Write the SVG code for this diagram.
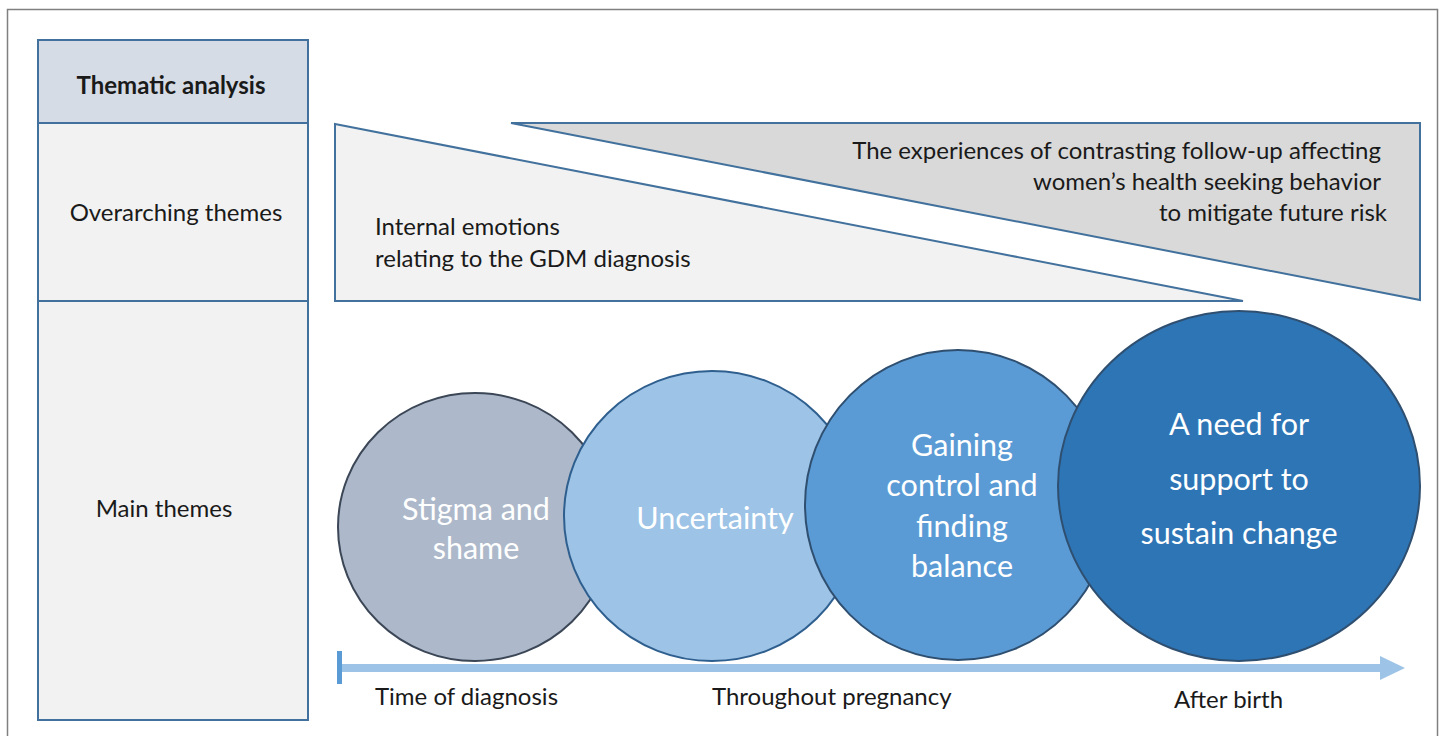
<svg xmlns="http://www.w3.org/2000/svg" width="1446" height="736" viewBox="0 0 1446 736">
<style>
.t{font-family:Lato,"Open Sans","Liberation Sans",sans-serif;fill:#1a1a1a;font-size:24px;}
.cell{stroke:#41719c;stroke-width:2;}
.c{font-family:Lato,"Open Sans","Liberation Sans",sans-serif;fill:#ffffff;font-size:30.5px;text-anchor:middle;}
</style>
<rect width="1446" height="736" fill="#ffffff"/>
<rect x="7.5" y="9.5" width="1430" height="740" fill="none" stroke="#808080" stroke-width="1.5"/>
<g id="table">
<rect class="cell" x="38" y="40" width="270" height="83" fill="#d6dce5"/>
<rect class="cell" x="38" y="123" width="270" height="178" fill="#f2f2f2"/>
<rect class="cell" x="38" y="301" width="270" height="419" fill="#f2f2f2"/>
<text class="t" x="171" y="94" font-size="24.5" font-weight="bold" text-anchor="middle">Thematic analysis</text>
<text class="t" x="176" y="221" text-anchor="middle">Overarching themes</text>
<text class="t" x="164" y="517" text-anchor="middle">Main themes</text>
</g>
<g id="overarching-1">
<polygon points="335,124 1243,301 335,301" fill="#f2f2f2" stroke="#41719c" stroke-width="2"/>
<text class="t" x="375" y="235">Internal emotions</text>
<text class="t" x="375" y="267">relating to the GDM diagnosis</text>
</g>
<g id="overarching-2">
<polygon points="511,123 1420,123 1420,300" fill="#d9d9d9" stroke="#41719c" stroke-width="2"/>
<text class="t" x="1381" y="159" text-anchor="end">The experiences of contrasting follow-up affecting</text>
<text class="t" x="1381" y="190" text-anchor="end">women’s health seeking behavior</text>
<text class="t" x="1387" y="221" text-anchor="end">to mitigate future risk</text>
</g>
<g id="theme-stigma">
<ellipse cx="475" cy="527" rx="137" ry="134" fill="#adb9ca" stroke="#3b4656" stroke-width="2"/>
<text class="c" x="476" y="520">Stigma and</text>
<text class="c" x="476" y="559">shame</text>
</g>
<g id="theme-uncertainty">
<ellipse cx="712" cy="516" rx="148" ry="145" fill="#9dc3e6" stroke="#2f5f8f" stroke-width="2"/>
<text class="c" x="715" y="529">Uncertainty</text>
</g>
<g id="theme-gaining">
<ellipse cx="958" cy="505" rx="153" ry="155" fill="#5b9bd5" stroke="#2f4f70" stroke-width="2"/>
<text class="c" x="962" y="456">Gaining</text>
<text class="c" x="962" y="496">control and</text>
<text class="c" x="962" y="537">finding</text>
<text class="c" x="962" y="577">balance</text>
</g>
<g id="theme-support">
<ellipse cx="1239" cy="486" rx="181" ry="175" fill="#2e75b6" stroke="#2f4f70" stroke-width="2"/>
<text class="c" x="1239" y="435">A need for</text>
<text class="c" x="1239" y="490">support to</text>
<text class="c" x="1239" y="544">sustain change</text>
</g>
<g id="connectors">
<rect x="337" y="664" width="1045" height="8" fill="#9dc3e6"/>
<polygon points="1380,656 1405,668 1380,680" fill="#9dc3e6"/>
<rect x="337" y="651" width="5" height="33" fill="#5b9bd5"/>
</g>
<g id="timeline-labels">
<text class="t" x="375" y="705">Time of diagnosis</text>
<text class="t" x="712" y="705">Throughout pregnancy</text>
<text class="t" x="1174" y="708">After birth</text>
</g>
</svg>
